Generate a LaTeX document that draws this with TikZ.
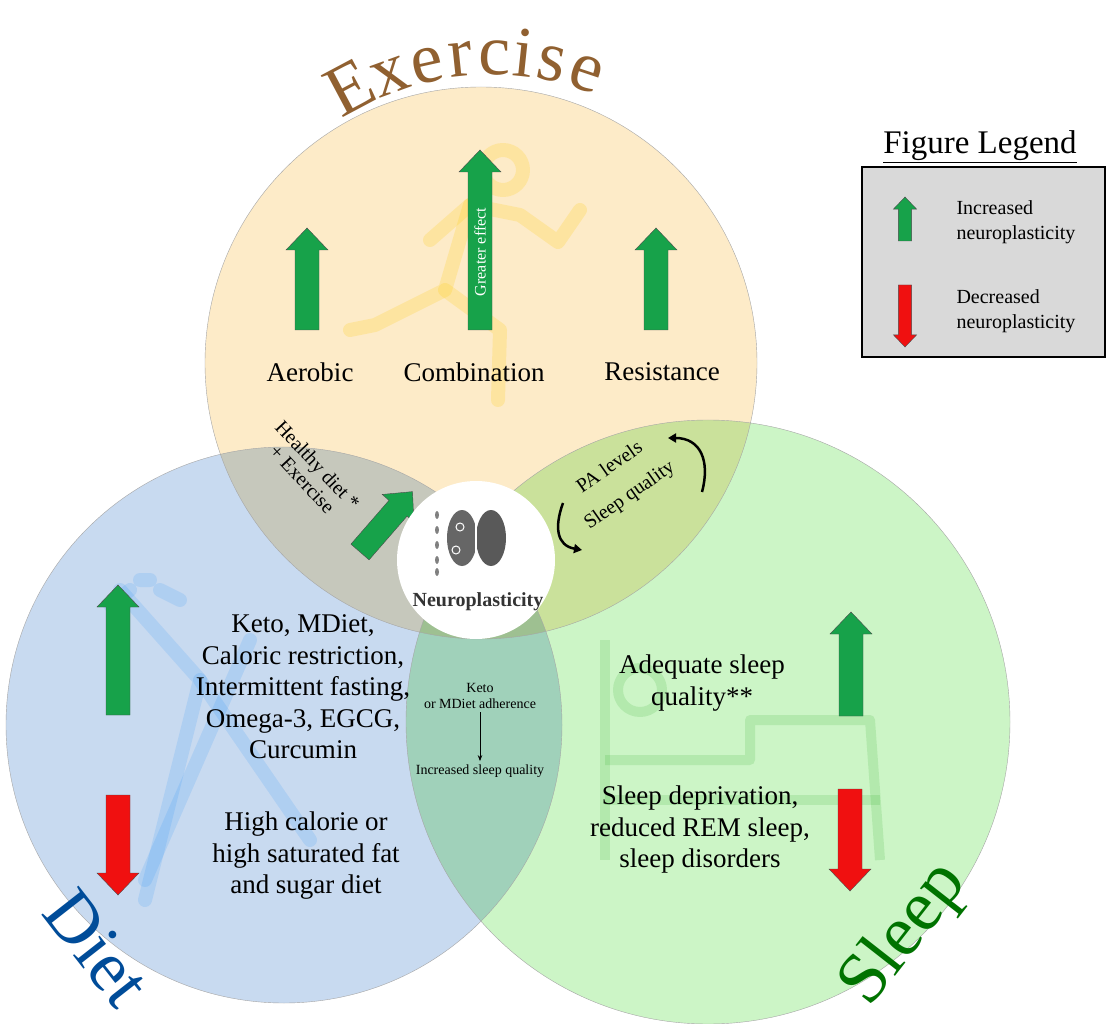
\documentclass[tikz,border=0pt]{standalone}
\usepackage{fontspec}
\setmainfont{Liberation Serif}
\usetikzlibrary{arrows.meta}
\definecolor{exc}{HTML}{FDEBC8}
\definecolor{dic}{HTML}{C8DAF0}
\definecolor{slc}{HTML}{CCF5C6}
\definecolor{upg}{HTML}{17A24A}
\definecolor{dnr}{HTML}{F01010}
% block arrow: colour, tail x, tail y, angle, length, scale
\newcommand\barrow[6]{%
\draw[draw=black!70,fill=#1,shift={(#2,#3)},rotate=#4,scale=#6] (0,-12) -- (#5/#6-22,-12) -- (#5/#6-22,-21) -- (#5/#6,0) -- (#5/#6-22,21) -- (#5/#6-22,12) -- (0,12) -- cycle;}
\begin{document}
\begin{tikzpicture}[x=1pt,y=-1pt,
  lab/.style={font=\fontsize{27}{31.5}\selectfont,align=center},
  small/.style={font=\fontsize{14}{16}\selectfont,align=center},
  title/.style={font=\fontsize{72}{72}\selectfont}]
\useasboundingbox (0,0) rectangle (1112,1024);
\fill[white] (0,0) rectangle (1112,1024);
% circles
\begin{scope}[transparency group]
\begin{scope}[blend mode=multiply]
\fill[exc] (481,363) circle (276);
\fill[dic] (284,725) circle (278);
\fill[slc] (708,722) circle (302);
\end{scope}
\end{scope}
\draw[gray!70,thin] (481,363) circle (276) (284,725) circle (278) (708,722) circle (302);
% faint icons
\begin{scope}[draw=orange!40!yellow,opacity=0.2,line width=14pt,line cap=round,line join=round]
\draw (503,170) circle (20);
\draw (430,240) -- (470,205) -- (520,215) -- (558,242) -- (580,210);
\draw (470,205) -- (445,290) -- (375,325) -- (350,330);
\draw (445,290) -- (500,330) -- (498,400);
\end{scope}
\begin{scope}[draw=blue!50!cyan,opacity=0.12,line width=14pt,line cap=round,line join=round]
\draw (120,590) -- (200,680) -- (145,900);
\draw (110,605) -- (130,590) (140,580) -- (150,580) (160,590) -- (180,600);
\draw (200,680) -- (310,840);
\draw (250,640) -- (145,880);
\end{scope}
\begin{scope}[draw=green!60!black,opacity=0.12,line width=10pt,line join=round]
\draw (605,640) -- (605,860);
\draw (605,760) -- (750,760) -- (750,720) -- (870,720) -- (880,860);
\draw (640,690) circle (22);
\draw (605,800) -- (880,800);
\end{scope}
% titles
\foreach \ch/\ang in {E/118,x/110,e/102.5,r/96,c/89.5,i/84,s/78.5,e/71.5}
  \node[title,text=brown!75!black,anchor=base,rotate=\ang-90] at ({492+280*cos(\ang)},{355-280*sin(\ang)}) {\ch};
\node[title,text=blue!50!cyan!60!black,rotate=-52] (tdiet) at (97,948) {Diet};
\node[title,text=green!45!black,rotate=52] (tsleep) at (905,935) {Sleep};
% exercise
\barrow{upg}{307}{330}{90}{102}{1}
\barrow{upg}{480}{330}{90}{180}{1}
\node[rotate=90,font=\fontsize{16}{16}\selectfont,text=white] (ge) at (480,252) {Greater effect};
\barrow{upg}{656}{330}{90}{102}{1}
\node[lab] (aer) at (310,372) {Aerobic};
\node[lab] (comb) at (474,372) {Combination};
\node[lab] (res) at (662,372) {Resistance};
% healthy diet
\node[align=center,font=\fontsize{20}{21}\selectfont,rotate=-47] (hd) at (310,472) {Healthy diet *\\+ Exercise};
\barrow{upg}{360}{552}{49}{80}{1}
% PA
\node[align=center,font=\fontsize{20}{34}\selectfont,rotate=35] (pa) at (620,482) {PA levels\\Sleep quality};
\coordinate (c1) at (668,438); \coordinate (c2) at (702,492);
\coordinate (c3) at (563,503); \coordinate (c4) at (582,550);
\draw[-{Triangle[length=8pt,width=9pt]},line width=2.5pt] (c2) to[out=75,in=0,looseness=1.3] (c1);
\draw[-{Triangle[length=8pt,width=9pt]},line width=2.5pt] (c3) to[out=-110,in=170,looseness=1.3] (c4);
% center
\node[circle,fill=white,minimum size=158pt,inner sep=0pt] (np) at (476,560) {};
\fill[gray!80!black] (462,538) ellipse (15 and 28);
\fill[gray!70!black] (491,538) ellipse (15 and 28);
\draw[white,line width=1.5pt] (476,508) -- (476,568);
\foreach \p in {(460,527),(456,550)} \draw[white,line width=1pt] \p circle (4);
\foreach \yy in {515,530,545,560,572} \fill[gray] (437,\yy) ellipse (2 and 4);
\node[font=\bfseries\fontsize{20}{20}\selectfont,text=black!80] (npl) at (478,602) {Neuroplasticity};
% diet
\barrow{upg}{118}{715}{90}{130}{1}
\barrow{dnr}{118}{795}{-90}{100}{1}
\node[lab] (dt1) at (303,687) {Keto, MDiet,\\Caloric restriction,\\Intermittent fasting,\\Omega-3, EGCG,\\Curcumin};
\node[lab] (dt2) at (306,856) {High calorie or\\high saturated fat\\and sugar diet};
% middle
\node[small] (k1) at (480,696) {Keto\\or MDiet adherence};
\node[small] (k2) at (480,771) {Increased sleep quality};
\draw[-{Stealth[length=6pt]},line width=0.8pt] (k1) -- (k2);
% sleep
\barrow{upg}{851}{716}{90}{104}{1}
\barrow{dnr}{850}{789}{-90}{102}{1}
\node[lab] (st1) at (702,683) {Adequate sleep\\quality**};
\node[lab] (st2) at (700,830) {Sleep deprivation,\\reduced REM sleep,\\sleep disorders};
% legend
\node[font=\fontsize{33}{33}\selectfont] (lt) at (980,147) {\underline{Figure Legend}};
\node[draw=black,line width=2pt,fill=gray!30,minimum width=243pt,minimum height=190pt] (lb) at (983,262) {};
\barrow{upg}{905}{241}{90}{44}{0.55}
\barrow{dnr}{905}{285}{-90}{62}{0.55}
\node[font=\fontsize{20}{25}\selectfont,align=left,anchor=west] (li) at (953,222) {Increased\\neuroplasticity};
\node[font=\fontsize{20}{25}\selectfont,align=left,anchor=west] (ldt) at (953,311) {Decreased\\neuroplasticity};
\end{tikzpicture}
\end{document}
